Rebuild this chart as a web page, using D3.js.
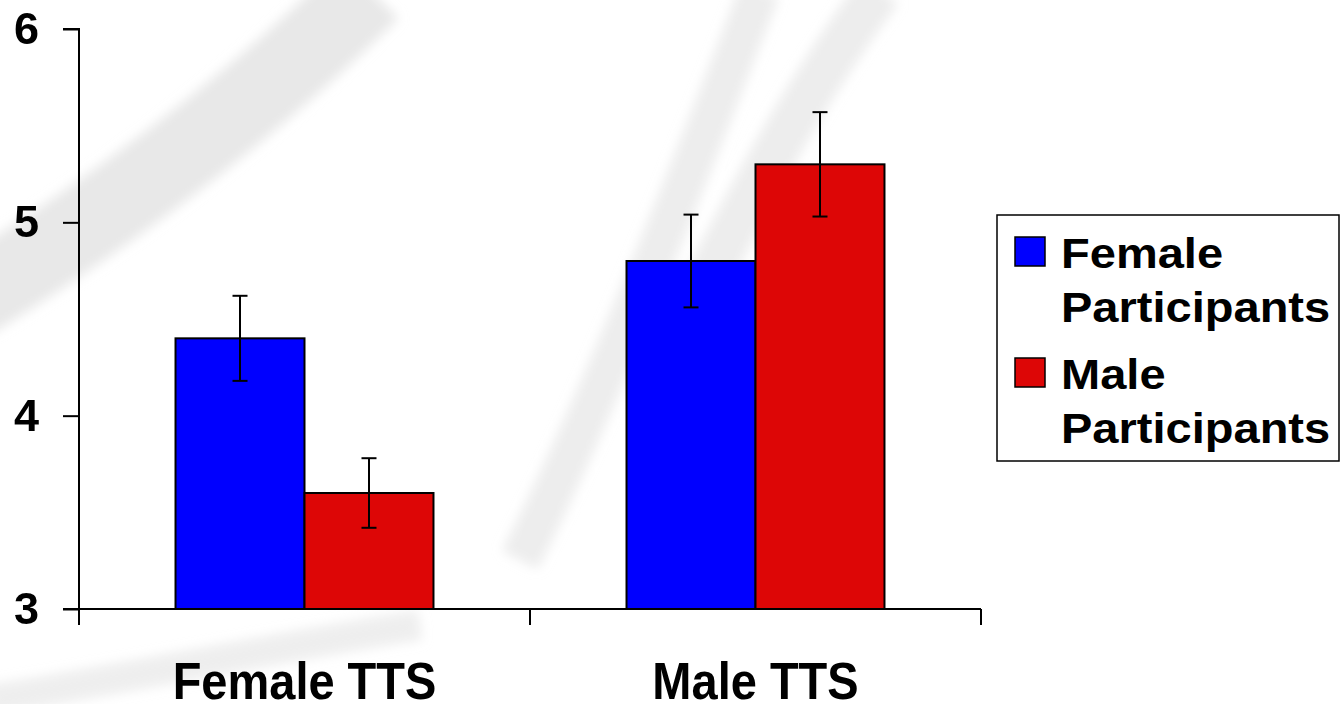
<!DOCTYPE html>
<html><head><meta charset="utf-8">
<script src="https://cdn.jsdelivr.net/npm/d3@7"></script>
<style>html,body{margin:0;padding:0;background:#fff;}svg{display:block;}</style>
</head><body>
<svg id="chart" width="1341" height="704"></svg>
<script>
const categories = ["Female TTS", "Male TTS"];
const seriesNames = ["Female Participants", "Male Participants"];
const femaleParticipants = [4.40, 4.80];
const maleParticipants = [3.60, 5.30];
const femaleErr = [0.22, 0.24];
const maleErr = [0.18, 0.27];
const yTicks = [3, 4, 5, 6];
const colors = ["#0000ff", "#dd0606"];

const svg = d3.select("#chart");
const font = "'Liberation Sans', Arial, sans-serif";
const mLeft = 79, mRight = 981, mTop = 29, mBottom = 609;

// faint background swooshes (decorative watermark)
const defs = svg.append("defs");
defs.append("filter").attr("id", "blur").append("feGaussianBlur").attr("stdDeviation", 6);
const bg = svg.append("g").attr("fill", "none").attr("stroke", "#dedede").attr("stroke-linecap", "butt").attr("filter", "url(#blur)");
bg.append("path").attr("d", "M-30,300 C100,220 250,110 370,-10").attr("stroke-width", 80).attr("opacity", 0.7);
bg.append("path").attr("d", "M520,560 C590,420 660,250 760,-10").attr("stroke-width", 40).attr("opacity", 0.55);
bg.append("path").attr("d", "M680,330 C740,220 790,110 880,-10").attr("stroke-width", 45).attr("opacity", 0.55);
bg.append("path").attr("d", "M-10,700 C120,680 260,650 420,625").attr("stroke-width", 30).attr("opacity", 0.5);

const y = d3.scaleLinear().domain([3, 6]).range([mBottom, mTop]);
const x0 = d3.scaleBand().domain(categories).range([mLeft, mRight]).paddingInner(0.428).paddingOuter(0.214);
const x1 = d3.scaleBand().domain(seriesNames).range([0, x0.bandwidth()]);

const values = [femaleParticipants, maleParticipants];
const errs = [femaleErr, maleErr];

const data = [];
categories.forEach((c, i) => {
  seriesNames.forEach((s, j) => {
    data.push({cat: c, ser: s, v: values[j][i], e: errs[j][i], color: colors[j]});
  });
});

const g = svg.append("g");
g.selectAll("rect.bar").data(data).enter().append("rect")
  .attr("class", "bar")
  .attr("x", d => x0(d.cat) + x1(d.ser))
  .attr("y", d => y(d.v))
  .attr("width", x1.bandwidth())
  .attr("height", d => y(3) - y(d.v))
  .attr("fill", d => d.color)
  .attr("stroke", "#000").attr("stroke-width", 2);

// error bars
const eb = g.selectAll("g.err").data(data).enter().append("g").attr("class", "err")
  .attr("stroke", "#000").attr("stroke-width", 2);
const cx = d => x0(d.cat) + x1(d.ser) + x1.bandwidth() / 2;
eb.append("line").attr("x1", cx).attr("x2", cx).attr("y1", d => y(d.v + d.e)).attr("y2", d => y(d.v - d.e));
eb.append("line").attr("x1", d => cx(d) - 7.5).attr("x2", d => cx(d) + 7.5).attr("y1", d => y(d.v + d.e)).attr("y2", d => y(d.v + d.e));
eb.append("line").attr("x1", d => cx(d) - 7.5).attr("x2", d => cx(d) + 7.5).attr("y1", d => y(d.v - d.e)).attr("y2", d => y(d.v - d.e));

// y axis
const yAxis = d3.axisLeft(y).tickValues(yTicks).tickFormat(d3.format("d")).tickSize(16).tickPadding(24);
const ya = svg.append("g").attr("transform", `translate(${mLeft},0)`).call(yAxis);
ya.select(".domain").attr("stroke", "#000").attr("stroke-width", 2).attr("d", `M-16,${mTop}H0V${mBottom}H-16`);
ya.selectAll(".tick line").attr("stroke", "#000").attr("stroke-width", 2);
ya.selectAll(".tick text").attr("font-family", font).attr("font-weight", "bold").attr("font-size", 45).attr("fill", "#000");

// x axis
const xa = svg.append("g").attr("transform", `translate(0,${mBottom})`);
xa.append("line").attr("x1", mLeft).attr("x2", mRight).attr("y1", 0).attr("y2", 0).attr("stroke", "#000").attr("stroke-width", 2);
const boundaries = [mLeft, (x0(categories[0]) + x0.bandwidth() + x0(categories[1])) / 2, mRight];
xa.selectAll("line.xt").data(boundaries).enter().append("line").attr("class", "xt")
  .attr("x1", d => d).attr("x2", d => d).attr("y1", 0).attr("y2", 16).attr("stroke", "#000").attr("stroke-width", 2);
xa.selectAll("text").data(categories).enter().append("text")
  .attr("transform", d => `translate(${x0(d) + x0.bandwidth() / 2},${90}) scale(1,1.1)`)
  .attr("text-anchor", "middle").attr("font-family", font).attr("font-weight", "bold").attr("font-size", 47)
  .attr("fill", "#000").text(d => d);

// legend
const lg = svg.append("g");
lg.append("rect").attr("x", 997).attr("y", 215).attr("width", 342).attr("height", 246)
  .attr("fill", "#fff").attr("stroke", "#000").attr("stroke-width", 1.5);
const legendLines = [["Female", "Participants"], ["Male", "Participants"]];
seriesNames.forEach((s, j) => {
  const yy = 237 + j * 121;
  lg.append("rect").attr("x", 1015).attr("y", yy).attr("width", 30).attr("height", 29)
    .attr("fill", colors[j]).attr("stroke", "#000").attr("stroke-width", 1.5);
  legendLines[j].forEach((line, k) => {
    lg.append("text")
      .attr("transform", `translate(1061,${yy + 31 + k * 54}) scale(1.12,1)`)
      .attr("font-family", font).attr("font-weight", "bold").attr("font-size", 42).attr("fill", "#000")
      .text(line);
  });
});
</script>
</body></html>
